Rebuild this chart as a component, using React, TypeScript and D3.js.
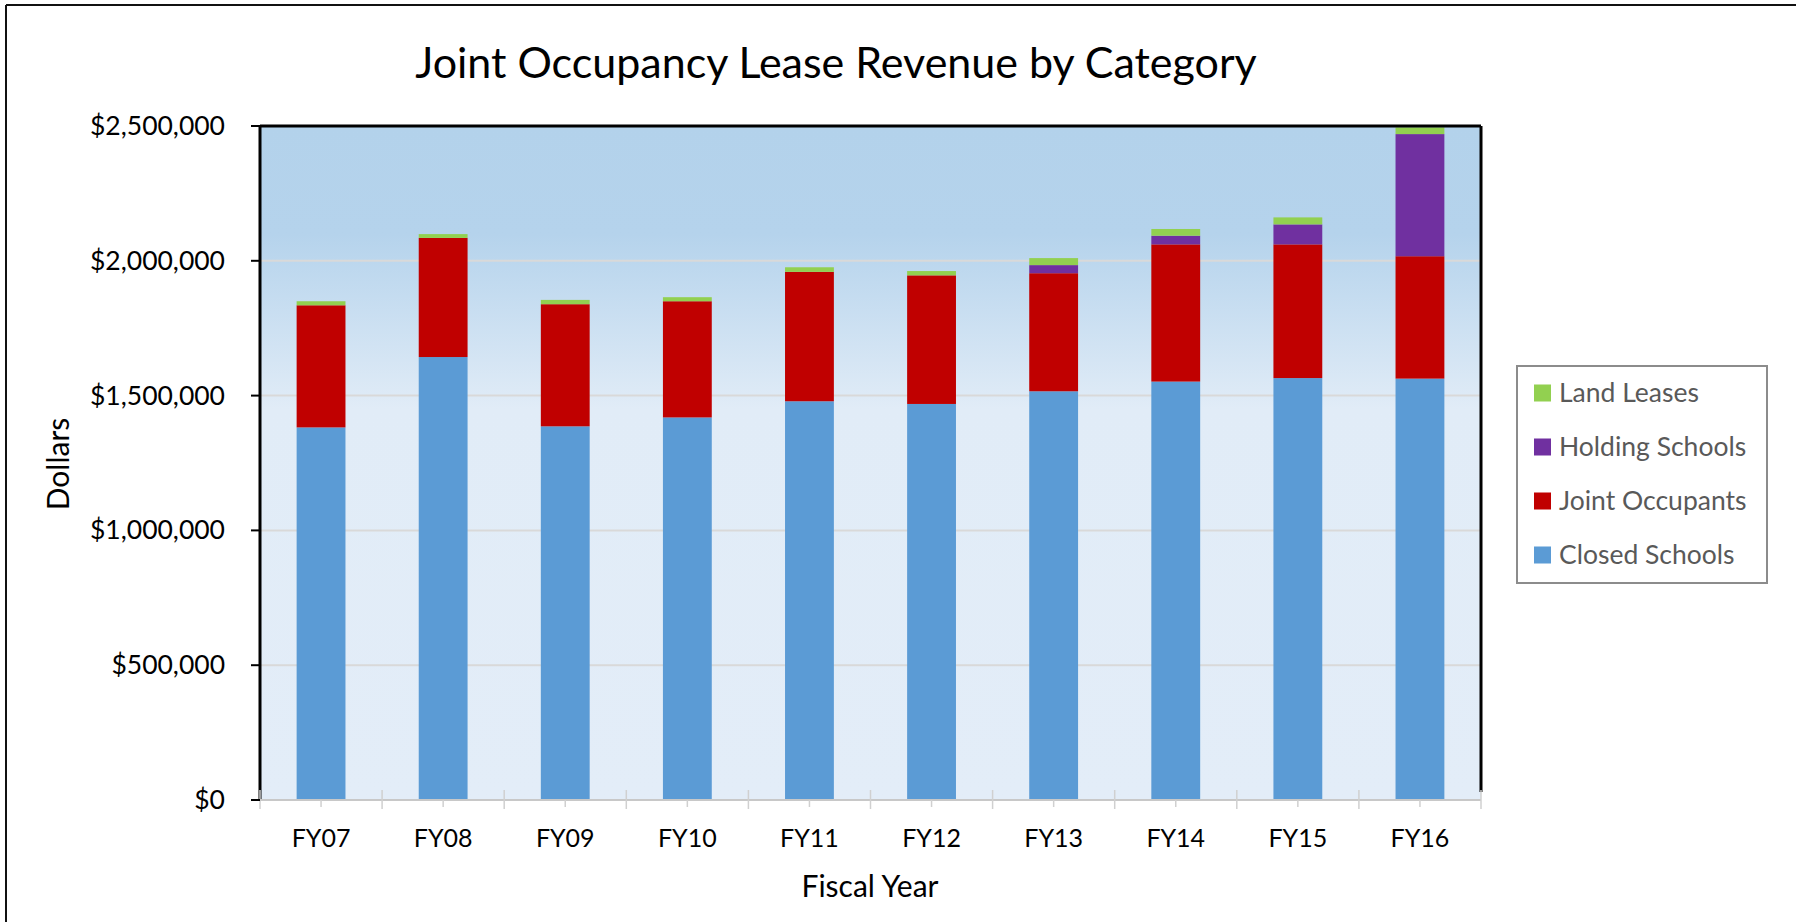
import React from "react";
import * as d3 from "d3";

const years = ["FY07", "FY08", "FY09", "FY10", "FY11", "FY12", "FY13", "FY14", "FY15", "FY16"];
const closedSchools = [1382000, 1643000, 1386000, 1419000, 1479000, 1469000, 1516000, 1552000, 1565000, 1563000];
const jointOccupants = [453000, 442000, 453000, 431000, 480000, 477000, 438000, 509000, 496000, 454000];
const holdingSchools = [0, 0, 0, 0, 0, 0, 30000, 32000, 74000, 453000];
const landLeases = [15000, 14000, 16000, 15000, 17000, 16000, 26000, 25000, 26000, 25000];
const yTicks = [0, 500000, 1000000, 1500000, 2000000, 2500000];

const seriesKeys = ["closed", "joint", "holding", "land"];
const seriesNames = ["Closed Schools", "Joint Occupants", "Holding Schools", "Land Leases"];
const seriesColors = ["#5b9bd5", "#c00000", "#7030a0", "#92d050"];

const W = 1796;
const H = 922;
const PL = 260, PR = 1481, PT = 126, PB = 800;
const FONT = "Lato, 'Open Sans', sans-serif";

export default function App() {
  const rows = years.map((y, i) => ({
    year: y,
    closed: closedSchools[i],
    joint: jointOccupants[i],
    holding: holdingSchools[i],
    land: landLeases[i],
  }));
  const stacked = d3.stack<any>().keys(seriesKeys)(rows);
  const x = d3.scaleBand().domain(years).range([PL, PR]).paddingInner(0.6).paddingOuter(0.3);
  const y = d3.scaleLinear().domain([0, 2500000]).range([PB, PT]);
  const fmt = (v: number) => "$" + d3.format(",")(v);
  const step = x.step();
  const boundaries = d3.range(years.length + 1).map((i) => PL + i * step);

  const legendOrder = [3, 2, 1, 0];
  const legendRowY = [393, 447, 501, 555];

  return (
    <svg width={W} height={H} style={{ position: "absolute", left: 0, top: 0, background: "#fff" }} fontFamily={FONT}>
      <defs>
        <linearGradient id="bg" x1="0" y1="0" x2="0" y2="1">
          <stop offset="0%" stopColor="#b3d2eb" />
          <stop offset="16%" stopColor="#b5d3ec" />
          <stop offset="42%" stopColor="#e1ecf7" />
          <stop offset="100%" stopColor="#e3edf8" />
        </linearGradient>
      </defs>
      {/* outer chart border */}
      <line x1={6} y1={5} x2={W} y2={5} stroke="#111" strokeWidth={2} />
      <line x1={6} y1={5} x2={6} y2={H} stroke="#111" strokeWidth={2} />

      <text x={836} y={78} textAnchor="middle" fontSize={43} fill="#000">
        Joint Occupancy Lease Revenue by Category
      </text>

      <rect x={PL} y={PT} width={PR - PL} height={PB - PT} fill="url(#bg)" />
      {yTicks.filter((t) => t > 0 && t < 2500000).map((t) => (
        <line key={t} x1={PL} x2={PR} y1={y(t)} y2={y(t)} stroke="#d9d9d9" strokeWidth={2} />
      ))}

      {stacked.map((s, si) => (
        <g key={s.key} fill={seriesColors[si]}>
          {s.map((d: any, i: number) => {
            const h = y(d[0]) - y(d[1]);
            if (h <= 0) return null;
            return <rect key={i} x={x(years[i])} y={y(d[1])} width={x.bandwidth()} height={h} />;
          })}
        </g>
      ))}

      {/* plot border */}
      <line x1={PL} y1={PT} x2={PR} y2={PT} stroke="#000" strokeWidth={3} />
      <line x1={PR} y1={PT} x2={PR} y2={PB - 8} stroke="#000" strokeWidth={3} />
      <line x1={PL} y1={PT} x2={PL} y2={PB} stroke="#000" strokeWidth={3} />

      {/* x axis */}
      <line x1={PL} y1={PB} x2={PR} y2={PB} stroke="#c8c8c8" strokeWidth={2} />
      {boundaries.map((b, i) => (
        <line key={i} x1={b} x2={b} y1={PB - 10} y2={PB + 9} stroke="#d0d0d0" strokeWidth={1.5} />
      ))}
      {years.map((yr) => {
        const cx = (x(yr) as number) + x.bandwidth() / 2;
        return (
          <g key={yr}>
            <line x1={cx} x2={cx} y1={PB} y2={PB + 7} stroke="#d0d0d0" strokeWidth={1.5} />
            <text x={cx} y={847} textAnchor="middle" fontSize={25} fill="#000">{yr}</text>
          </g>
        );
      })}

      {/* y axis ticks */}
      {yTicks.map((t) => (
        <g key={t}>
          <line x1={PL - 9} x2={PL} y1={y(t)} y2={y(t)} stroke="#000" strokeWidth={2} />
          <text x={225} y={y(t) + 9} textAnchor="end" fontSize={26.5} fill="#000">{fmt(t)}</text>
        </g>
      ))}

      <text transform="translate(69,464) rotate(-90)" textAnchor="middle" fontSize={30} fill="#000">Dollars</text>
      <text x={870} y={897} textAnchor="middle" fontSize={30} fill="#000">Fiscal Year</text>

      {/* legend */}
      <rect x={1517} y={366} width={250} height={217} fill="#fff" stroke="#8c8c8c" strokeWidth={2} />
      {legendOrder.map((si, r) => (
        <g key={si}>
          <rect x={1534} y={legendRowY[r] - 8.5} width={17} height={17} fill={seriesColors[si]} />
          <text x={1559} y={legendRowY[r] + 9} fontSize={26.5} fill="#595959">{seriesNames[si]}</text>
        </g>
      ))}
    </svg>
  );
}
